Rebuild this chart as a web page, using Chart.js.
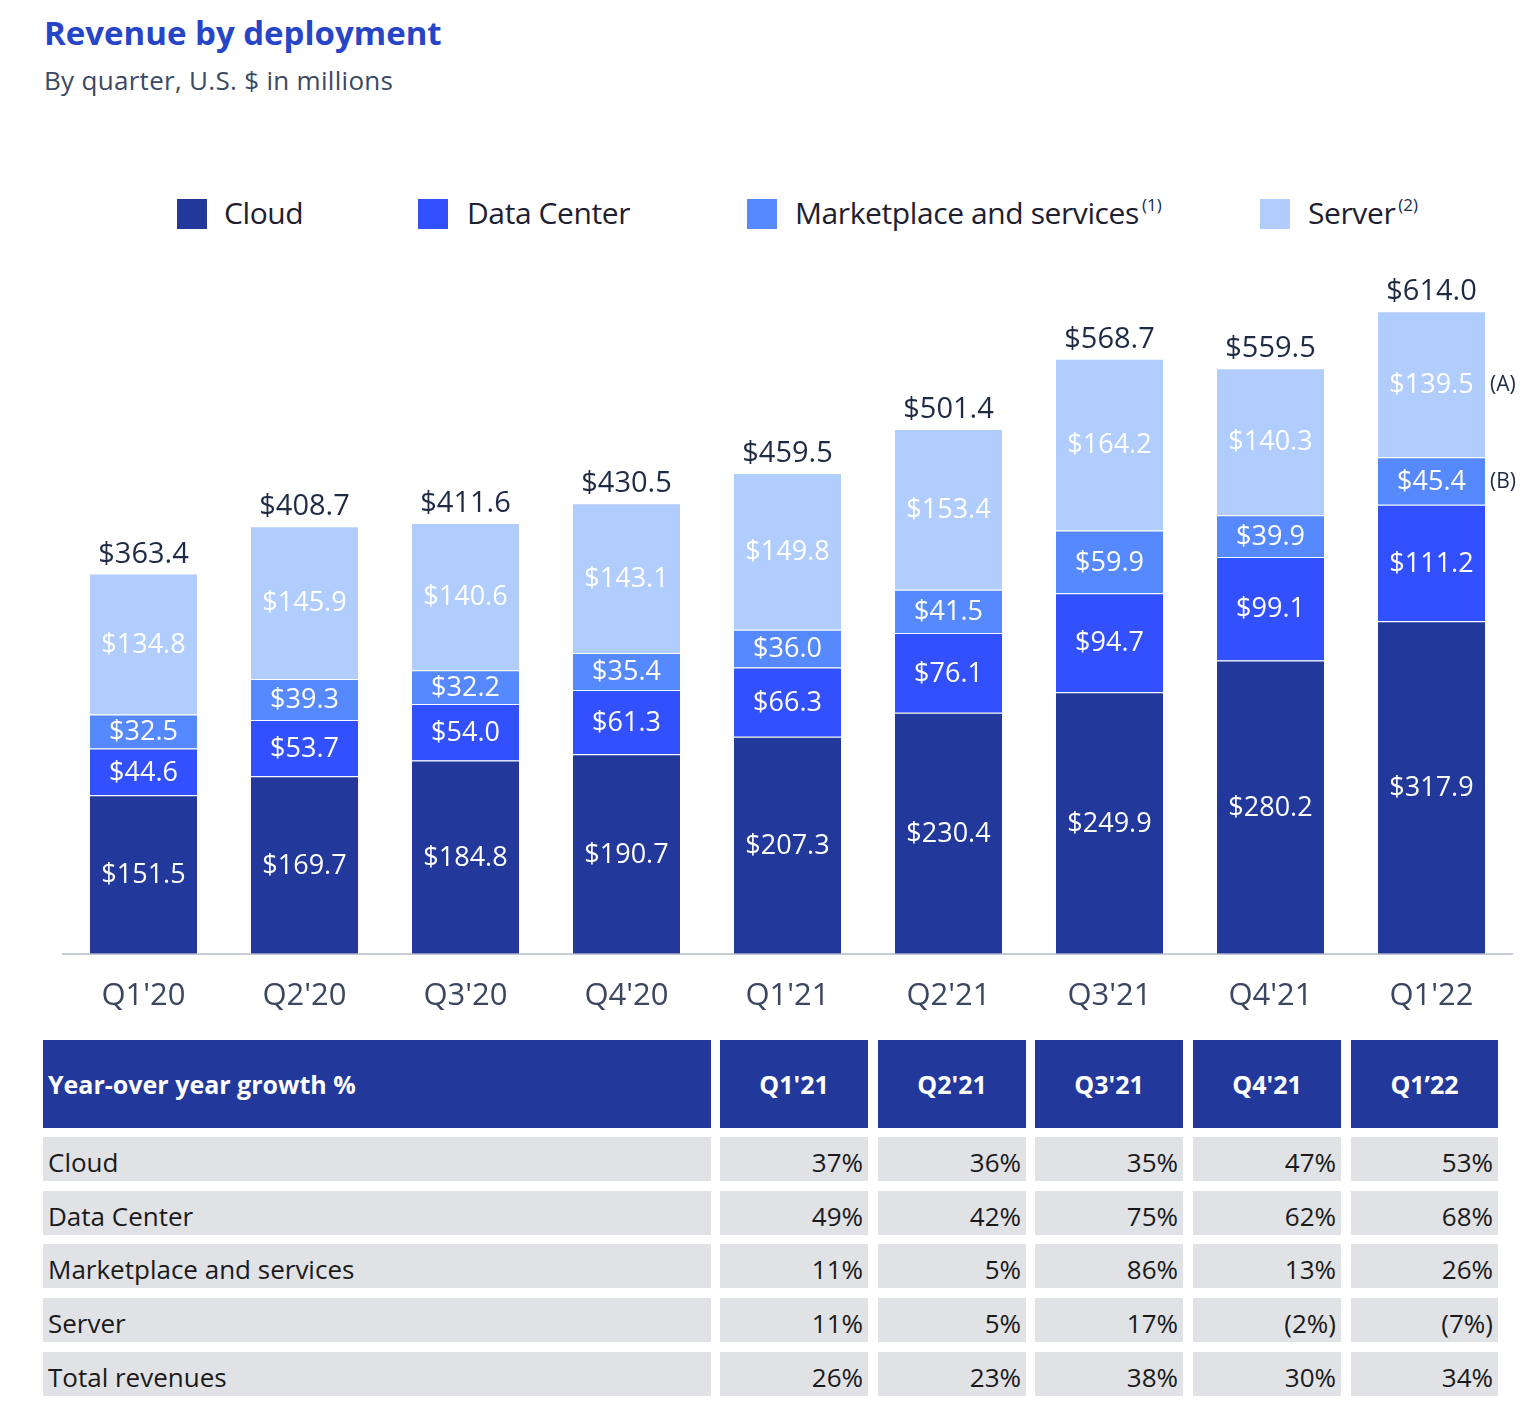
<!DOCTYPE html>
<html>
<head>
<meta charset="utf-8">
<script src="https://cdn.jsdelivr.net/npm/chart.js@4.4.1/dist/chart.umd.min.js"></script>
<style>
  html, body { margin: 0; padding: 0; background: #fff; }
  body { width: 1526px; height: 1406px; position: relative; overflow: hidden; font-family: "Open Sans", sans-serif; }
  #title { position: absolute; left: 44px; top: 11px; font-size: 33px; font-weight: 700; color: #2745C6; white-space: nowrap; line-height: 44px; }
  #subtitle { position: absolute; left: 44px; top: 62px; font-size: 26px; color: #3d4863; white-space: nowrap; line-height: 36px; letter-spacing: 0.3px; }
  #chartCanvas { position: absolute; left: 0; top: 240px; }
  .lg-box { position: absolute; top: 199px; width: 30px; height: 30px; }
  .lg-txt { position: absolute; top: 193px; font-size: 30px; line-height: 40px; color: #1e2030; white-space: nowrap; letter-spacing: -0.4px; }
  .lg-txt sup { font-size: 17px; color: #172b4d; position: relative; top: -13px; vertical-align: baseline; line-height: 0; margin-left: 3px; letter-spacing: 0; }
  .cell { position: absolute; box-sizing: border-box; white-space: nowrap; }
  .hd { background: #22399b; color: #fff; font-weight: 700; font-size: 25px; height: 88px; line-height: 88px; }
  .bd { background: #e1e2e6; color: #1a1a1a; font-size: 26px; height: 44px; line-height: 50px; }
</style>
</head>
<body>
<div id="title">Revenue by deployment</div>
<div id="subtitle">By quarter, U.S. $ in millions</div>
<canvas id="chartCanvas" width="1526" height="800"></canvas>
<div id="legend"></div>
<div id="table"></div>
<script>
// ---- Data ----
const quarters = ["Q1'20", "Q2'20", "Q3'20", "Q4'20", "Q1'21", "Q2'21", "Q3'21", "Q4'21", "Q1'22"];
const seriesNames = ["Cloud", "Data Center", "Marketplace and services", "Server"];
const seriesNotes = ["", "", "(1)", "(2)"];
const cloud = [151.5, 169.7, 184.8, 190.7, 207.3, 230.4, 249.9, 280.2, 317.9];
const dataCenter = [44.6, 53.7, 54.0, 61.3, 66.3, 76.1, 94.7, 99.1, 111.2];
const marketplace = [32.5, 39.3, 32.2, 35.4, 36.0, 41.5, 59.9, 39.9, 45.4];
const server = [134.8, 145.9, 140.6, 143.1, 149.8, 153.4, 164.2, 140.3, 139.5];
const totals = [363.4, 408.7, 411.6, 430.5, 459.5, 501.4, 568.7, 559.5, 614.0];
const lastBarNotes = ["", "", "(B)", "(A)"];

const tableTitle = "Year-over year growth %";
const tableQuarters = ["Q1'21", "Q2'21", "Q3'21", "Q4'21", "Q1’22"];
const tableRowNames = ["Cloud", "Data Center", "Marketplace and services", "Server", "Total revenues"];
const growthCloud = ["37%", "36%", "35%", "47%", "53%"];
const growthDataCenter = ["49%", "42%", "75%", "62%", "68%"];
const growthMarketplace = ["11%", "5%", "86%", "13%", "26%"];
const growthServer = ["11%", "5%", "17%", "(2%)", "(7%)"];
const growthTotal = ["26%", "23%", "38%", "30%", "34%"];

// ---- Styles ----
const colors = ["#22399b", "#3350fe", "#5589fd", "#b1cdfd"];
const FONT = '"Open Sans", sans-serif';

// ---- Legend (HTML) ----
const legendBoxX = [177, 418, 747, 1260];
const legendTxtX = [224, 467, 795, 1308];
const legendEl = document.getElementById('legend');
seriesNames.forEach((n, i) => {
  const b = document.createElement('div');
  b.className = 'lg-box'; b.style.left = legendBoxX[i] + 'px'; b.style.background = colors[i];
  legendEl.appendChild(b);
  const t = document.createElement('div');
  t.className = 'lg-txt'; t.style.left = legendTxtX[i] + 'px';
  t.textContent = n;
  if (seriesNotes[i]) { const s = document.createElement('sup'); s.textContent = seriesNotes[i]; t.appendChild(s); }
  legendEl.appendChild(t);
});

// ---- Table (HTML) ----
const colLeft = [43, 720, 878, 1035, 1193, 1351];
const colWidth = [668, 148, 148, 148, 148, 147];
const rowTop = [1137, 1191, 1244, 1298, 1352];
const tableEl = document.getElementById('table');
function cell(cls, x, y, w, text, align, pad) {
  const d = document.createElement('div');
  d.className = 'cell ' + cls;
  d.style.left = x + 'px'; d.style.top = y + 'px'; d.style.width = w + 'px';
  d.style.textAlign = align;
  if (align === 'left') d.style.paddingLeft = pad + 'px';
  if (align === 'right') d.style.paddingRight = pad + 'px';
  d.textContent = text;
  tableEl.appendChild(d);
}
cell('hd', colLeft[0], 1040, colWidth[0], tableTitle, 'left', 5);
tableQuarters.forEach((q, j) => cell('hd', colLeft[j + 1], 1040, colWidth[j + 1], q, 'center', 0));
const growthRows = [growthCloud, growthDataCenter, growthMarketplace, growthServer, growthTotal];
tableRowNames.forEach((name, r) => {
  cell('bd', colLeft[0], rowTop[r], colWidth[0], name, 'left', 5);
  growthRows[r].forEach((v, j) => cell('bd', colLeft[j + 1], rowTop[r], colWidth[j + 1], v, 'right', 5));
});

// ---- Labels plugin ----
const labelPlugin = {
  id: 'barLabels',
  afterDatasetsDraw(chart) {
    const ctx = chart.ctx;
    ctx.save();
    ctx.textAlign = 'center';
    ctx.textBaseline = 'middle';
    ctx.font = '500 27px ' + FONT;
    ctx.fillStyle = '#ffffff';
    chart.data.datasets.forEach((ds, di) => {
      const meta = chart.getDatasetMeta(di);
      meta.data.forEach((el, i) => {
        const cy = (el.y + el.base) / 2;
        ctx.fillText('$' + ds.data[i].toFixed(1), el.x, cy + 1);
      });
    });
    // totals
    const topMeta = chart.getDatasetMeta(chart.data.datasets.length - 1);
    ctx.font = '500 29px ' + FONT;
    ctx.fillStyle = '#1f2b45';
    ctx.textBaseline = 'alphabetic';
    topMeta.data.forEach((el, i) => {
      ctx.fillText('$' + totals[i].toFixed(1), el.x, el.y - 11);
    });
    // notes on last bar
    ctx.font = '21px ' + FONT;
    ctx.textAlign = 'left';
    ctx.textBaseline = 'middle';
    const lastIdx = quarters.length - 1;
    chart.data.datasets.forEach((ds, di) => {
      if (!lastBarNotes[di]) return;
      const el = chart.getDatasetMeta(di).data[lastIdx];
      const cy = (el.y + el.base) / 2;
      ctx.fillText(lastBarNotes[di], el.x + el.width / 2 + 5, cy + 1);
    });
    ctx.restore();
  }
};

const seriesData = [cloud, dataCenter, marketplace, server];
new Chart(document.getElementById('chartCanvas'), {
  type: 'bar',
  data: {
    labels: quarters,
    datasets: seriesNames.map((n, i) => ({
      label: n,
      data: seriesData[i],
      backgroundColor: colors[i],
      borderColor: '#ffffff',
      borderWidth: { top: 1, bottom: 0, left: 0, right: 0 },
      borderSkipped: false,
      categoryPercentage: 1.0,
      barPercentage: 0.665
    }))
  },
  options: {
    responsive: false,
    animation: false,
    devicePixelRatio: 1,
    layout: { padding: { left: 63, right: 14, top: 20, bottom: 1 } },
    plugins: { legend: { display: false }, tooltip: { enabled: false }, title: { display: false } },
    scales: {
      x: {
        stacked: true,
        grid: { display: false, drawTicks: false },
        border: { display: true, color: '#c8ccd6', width: 2 },
        ticks: { color: '#3b4660', font: { family: FONT, size: 31 }, padding: 24 }
      },
      y: {
        stacked: true,
        display: false,
        min: 0,
        max: 663
      }
    }
  },
  plugins: [labelPlugin]
});
</script>
</body>
</html>
